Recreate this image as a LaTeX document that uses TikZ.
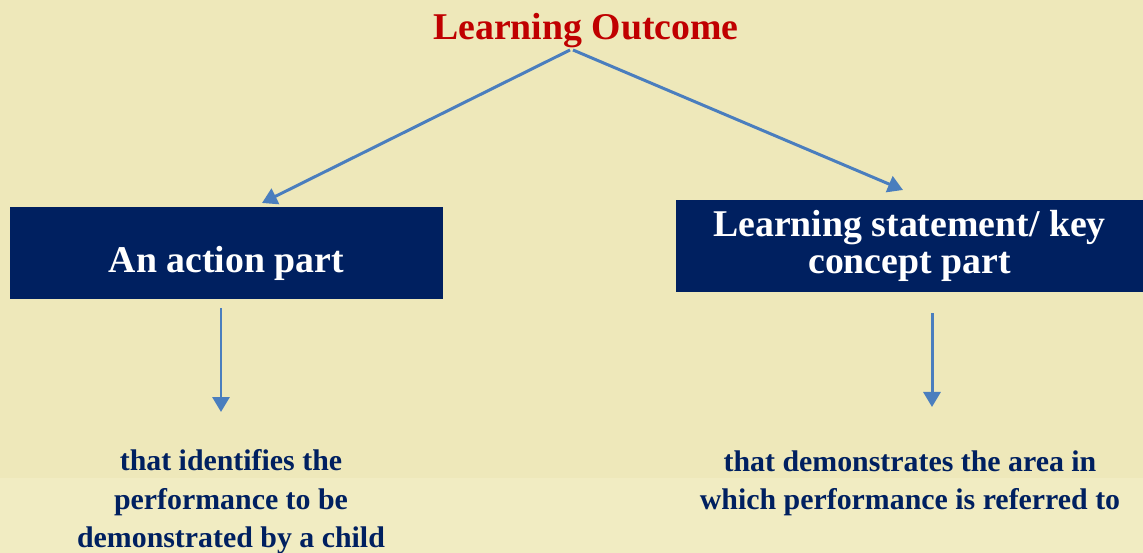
\documentclass[tikz,border=0pt]{standalone}
\usepackage{fontspec}
\setmainfont{Liberation Serif}
\usetikzlibrary{arrows.meta,positioning}
\definecolor{parchment}{RGB}{238,232,186}
\definecolor{parchlight}{RGB}{241,236,194}
\definecolor{navybox}{RGB}{0,32,96}
\definecolor{titlered}{RGB}{192,0,0}
\definecolor{arrowblue}{RGB}{74,126,190}
\tikzset{
    heading/.style={
    text=titlered,font=\fontsize{21.5}{26}\selectfont\bfseries
    },
    partbox/.style={
    rectangle,fill=navybox,text=white,align=center,inner sep=0pt,
    font=\fontsize{21.5}{21}\selectfont\bfseries
    },
    note/.style={
    text=navybox,align=center,font=\fontsize{17}{21.8}\selectfont\bfseries
    },
    link/.style={
    draw=arrowblue,line width=1.7pt,-{Triangle[length=0.3cm,width=0.34cm,fill=arrowblue]}
    },
}

\begin{document}
\begin{tikzpicture}[x=0.02cm, y=-0.02cm]
   % background
   \fill[parchment] (0,0) rectangle (1143,553);
   \fill[parchlight] (0,478) rectangle (1143,553);
   \useasboundingbox (0,0) rectangle (1143,553);

   \node[heading] (lo) at (586,31) {Learning Outcome};
   \node[partbox, minimum width=8.66cm, minimum height=1.84cm,
         text height=0.96cm, text depth=0.16cm] (act) at (226.5,253) {An action part};
   \node[partbox, minimum width=9.34cm, minimum height=1.84cm] (lsk) at (909.5,246)
        {Learning statement/ key\\concept part};
   \node[note] (actnote) at (231,502) {that identifies the\\performance to be\\demonstrated by a child};
   \node[note] (lsknote) at (910,483) {that demonstrates the area in\\which performance is referred to};

   \coordinate (loleft) at (570,50);
   \coordinate (loright) at (573,50);
   \coordinate (actin) at (262,203);
   \coordinate (lskin) at (903,190);
   \coordinate (actout) at (221,412);
   \coordinate (lskout) at (932,407);

   \draw[link] (loleft) -- (actin);
   \draw[link] (loright) -- (lskin);
   \draw[link] ([yshift=-9*0.02cm]act.south -| actout) -- (actout);
   \draw[link] ([yshift=-21*0.02cm]lsk.south -| lskout) -- (lskout);
\end{tikzpicture}
\end{document}
